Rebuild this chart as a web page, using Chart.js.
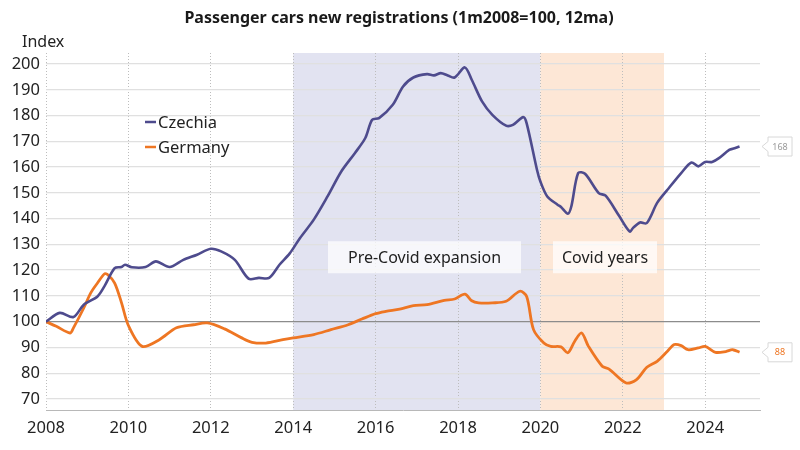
<!DOCTYPE html>
<html>
<head>
<meta charset="utf-8">
<script src="https://cdn.jsdelivr.net/npm/chart.js@4/dist/chart.umd.min.js"></script>
<style>
  html, body { margin: 0; padding: 0; background: #ffffff; }
  #wrap { width: 800px; height: 450px; position: relative; }
</style>
</head>
<body>
<div id="wrap"><canvas id="c" width="800" height="450"></canvas></div>
<script>
// ---- Data ----
const chartTitle = "Passenger cars new registrations (1m2008=100, 12ma)";
const yAxisTitle = "Index";
const seriesNames = ["Czechia", "Germany"];

const czDates = ["2008-01","2008-05","2008-09","2008-12","2009-04","2009-06","2009-09","2009-11","2009-12","2010-02","2010-06","2010-09","2011-01","2011-05","2011-09","2012-01","2012-04","2012-08","2012-12","2013-03","2013-06","2013-09","2013-12","2014-03","2014-07","2014-11","2015-03","2015-07","2015-10","2015-12","2016-02","2016-06","2016-09","2016-12","2017-04","2017-06","2017-08","2017-10","2017-12","2018-03","2018-05","2018-08","2018-11","2019-03","2019-05","2019-08","2019-09","2019-12","2020-01","2020-03","2020-06","2020-07","2020-09","2020-10","2020-12","2021-02","2021-06","2021-08","2021-12","2022-03","2022-04","2022-06","2022-08","2022-11","2023-02","2023-06","2023-09","2023-11","2024-01","2024-03","2024-05","2024-08","2024-09","2024-11"];
const czValues = [100,103.4,101.8,106.6,109.8,113.7,120.8,121.2,122.1,121.1,121.2,123.4,121.2,124,126,128.3,127.3,124,116.7,117,117,122.1,126.5,132.5,139.6,148.6,158.3,165.5,171.3,178.4,179,184.2,191.3,194.8,196.1,195.6,196.5,195.6,194.8,198.7,193.9,185.5,180.3,176.1,176.4,179.4,177,159,154.4,148.6,145.4,144.5,141.9,144.7,157.7,157.4,149.9,148.9,140.9,135,136.4,138.5,138.3,146.1,151.2,157.7,161.8,160.3,162,162,163.5,166.7,167.1,168];

const deDates = ["2008-01","2008-04","2008-08","2008-09","2008-12","2009-02","2009-04","2009-06","2009-07","2009-09","2009-11","2010-01","2010-05","2010-10","2011-03","2011-08","2011-12","2012-05","2012-10","2013-01","2013-05","2013-10","2014-01","2014-07","2014-12","2015-05","2015-09","2016-01","2016-04","2016-08","2016-12","2017-04","2017-09","2017-12","2018-03","2018-05","2018-07","2018-11","2019-03","2019-07","2019-09","2019-11","2020-02","2020-04","2020-07","2020-09","2020-11","2021-01","2021-03","2021-07","2021-09","2022-02","2022-05","2022-08","2022-11","2023-02","2023-04","2023-06","2023-08","2023-11","2024-01","2024-04","2024-07","2024-09","2024-11"];
const deValues = [100,98.2,95.6,97.6,105.3,111.1,115,118.5,118.2,115,107.3,98.5,90.4,93,97.6,98.8,99.5,97.2,93.7,92,91.7,93,93.7,95,96.9,98.8,101,103.1,104,104.9,106.2,106.6,108.3,108.8,110.7,108.1,107.3,107.3,107.9,111.8,109.8,96.9,91.7,90.4,90.2,87.9,92.4,95.6,90.4,82.7,81.6,76.2,77.5,82.3,84.6,88.5,91.1,90.7,89.1,89.8,90.4,88.1,88.4,89.1,88.1];

const xTickLabels = [2008,2010,2012,2014,2016,2018,2020,2022,2024];
const yTickLabels = [70,80,90,100,110,120,130,140,150,160,170,180,190,200];

const periodNames = ["Pre-Covid expansion", "Covid years"];
const periodStart = [2014, 2020];
const periodEnd = [2020, 2023];

// ---- Styling ----
const COLORS = ["#4e4b8d", "#ee7623"];
const SHADES = ["#e2e3f1", "#fde7d6"];
const FONT = "'Noto Sans', 'Open Sans', sans-serif";

function toYear(s) {
  const p = s.split("-");
  return Number(p[0]) + (Number(p[1]) - 1) / 12;
}
function pts(dates, vals) {
  return dates.map((d, i) => ({ x: toYear(d), y: vals[i] }));
}

const decorPlugin = {
  id: "decor",
  beforeDraw(chart) {
    const { ctx, chartArea: a, scales } = chart;
    ctx.save();
    for (let i = 0; i < periodStart.length; i++) {
      const x0 = scales.x.getPixelForValue(periodStart[i]);
      const x1 = scales.x.getPixelForValue(periodEnd[i]);
      ctx.fillStyle = SHADES[i];
      ctx.fillRect(x0, a.top, x1 - x0, a.bottom - a.top);
    }
    // title
    ctx.fillStyle = "#1a1a1a";
    ctx.font = "bold 16px " + FONT;
    ctx.textAlign = "center";
    ctx.textBaseline = "middle";
    ctx.fillText(chartTitle, 399, 18);
    ctx.font = "16px " + FONT;
    ctx.textAlign = "left";
    ctx.fillStyle = "#222";
    ctx.fillText(yAxisTitle, 22, 42);
    ctx.restore();
  },
  afterDatasetsDraw(chart) {
    const { ctx, chartArea: a, scales } = chart;
    ctx.save();
    // period label boxes
    const boxes = [
      { cx: 424.5, w: 193 },
      { cx: 605, w: 104 }
    ];
    ctx.font = "16px " + FONT;
    ctx.textAlign = "center";
    ctx.textBaseline = "middle";
    const by = scales.y.getPixelForValue(125);
    for (let i = 0; i < periodNames.length; i++) {
      ctx.fillStyle = "rgba(255,255,255,0.72)";
      ctx.fillRect(boxes[i].cx - boxes[i].w / 2, by - 16, boxes[i].w, 32);
      ctx.fillStyle = "#222";
      ctx.fillText(periodNames[i], boxes[i].cx, by + 1);
    }
    // legend
    const ly = [122, 147];
    ctx.textAlign = "left";
    ctx.font = "16.5px " + FONT;
    for (let i = 0; i < seriesNames.length; i++) {
      ctx.strokeStyle = COLORS[i];
      ctx.lineWidth = 2.5;
      ctx.beginPath();
      ctx.moveTo(145, ly[i]);
      ctx.lineTo(156, ly[i]);
      ctx.stroke();
      ctx.fillStyle = "#222";
      ctx.fillText(seriesNames[i], 158, ly[i] + 1);
    }
    // end value tags
    chart.data.datasets.forEach((ds, i) => {
      const last = ds.data[ds.data.length - 1];
      const yy = scales.y.getPixelForValue(last.y);
      const x0 = 768, w = 24, h = 19;
      ctx.fillStyle = "#ffffff";
      ctx.strokeStyle = "#d8d8d8";
      ctx.lineWidth = 1;
      ctx.beginPath();
      ctx.moveTo(x0 - 6, yy);
      ctx.lineTo(x0, yy - 5);
      ctx.lineTo(x0, yy - h / 2);
      ctx.lineTo(x0 + w, yy - h / 2);
      ctx.lineTo(x0 + w, yy + h / 2);
      ctx.lineTo(x0, yy + h / 2);
      ctx.lineTo(x0, yy + 5);
      ctx.closePath();
      ctx.fill();
      ctx.stroke();
      ctx.fillStyle = i === 0 ? "#9a9a9a" : COLORS[1];
      ctx.font = "9px " + FONT;
      ctx.textAlign = "center";
      ctx.fillText(String(Math.round(last.y)), x0 + w / 2, yy + 0.5);
    });
    ctx.restore();
  }
};

new Chart(document.getElementById("c"), {
  type: "line",
  data: {
    datasets: [
      { label: seriesNames[0], data: pts(czDates, czValues), borderColor: COLORS[0], borderWidth: 2.6, pointRadius: 0, tension: 0.3, fill: false },
      { label: seriesNames[1], data: pts(deDates, deValues), borderColor: COLORS[1], borderWidth: 2.8, pointRadius: 0, tension: 0.3, fill: false }
    ]
  },
  options: {
    responsive: false,
    animation: false,
    devicePixelRatio: 1,
    layout: { padding: { left: 0, right: 40, top: 53, bottom: 0 } },
    plugins: { legend: { display: false }, tooltip: { enabled: false }, title: { display: false } },
    scales: {
      x: {
        type: "linear",
        min: 2008,
        max: 2025.33,
        afterFit(s) { s.height = 40; },
        afterBuildTicks(s) { s.ticks = xTickLabels.map(v => ({ value: v })); },
        grid: { color: "#bdbdbd", lineWidth: 1, drawTicks: false },
        border: { display: true, color: "#b8b8b8", dash: [1, 2] },
        ticks: { padding: 8, color: "#222", font: { family: FONT, size: 16.5 }, maxRotation: 0, callback: v => String(v) }
      },
      y: {
        min: 65.7,
        max: 204.3,
        afterFit(s) { s.width = 46; },
        afterBuildTicks(s) { s.ticks = yTickLabels.map(v => ({ value: v })); },
        grid: { color: ctx => (ctx.tick && ctx.tick.value === 100 ? "#8c8c8c" : "#e0e0e0"), lineWidth: ctx => (ctx.tick && ctx.tick.value === 100 ? 1.2 : 1.3), drawTicks: false },
        border: { display: false },
        ticks: { padding: 6, color: "#222", font: { family: FONT, size: 16.5 }, callback: v => String(v) }
      }
    }
  },
  plugins: [decorPlugin]
});
</script>
</body>
</html>
